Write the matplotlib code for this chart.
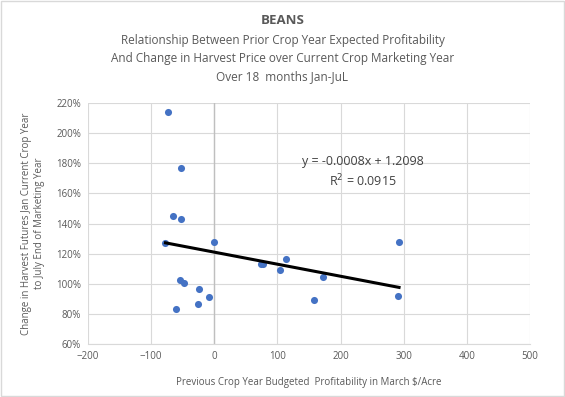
import numpy as np
import matplotlib.pyplot as plt
from matplotlib.ticker import PercentFormatter

# profitability ($/acre) vs change in harvest futures
profit = [-73.5, -52.4, -64.6, -53.5, -77.3, -1.0, 74.6, 77.3, 103.7, 113.2,
          172.0, 157.7, -55.0, -48.7, -24.9, -9.0, -26.5, -61.4, 292.6, 291.0]
change = [2.139, 1.771, 1.448, 1.428, 1.269, 1.275, 1.129, 1.129, 1.089, 1.161,
          1.042, 0.891, 1.023, 1.007, 0.963, 0.914, 0.864, 0.830, 1.275, 0.916]
slope = -0.0008
intercept = 1.2098
r2 = 0.0915

txt = '#595959'
plt.rcParams['font.family'] = ['Open Sans', 'DejaVu Sans']

fig = plt.figure(figsize=(5.65, 3.97), dpi=100)
ax = fig.add_axes([88 / 565, 1 - 344 / 397, (530 - 88) / 565, (344 - 103) / 397])

ax.scatter(profit, change, s=26, color='#4472c4', zorder=3, linewidths=0)
xs = np.array([min(profit), max(profit)])
ax.plot(xs, slope * xs + intercept, color='black', lw=2.2, zorder=4)

ax.set_xlim(-200, 500)
ax.set_ylim(0.6, 2.2)
ax.set_xticks(np.arange(-200, 501, 100))
ax.set_yticks(np.arange(0.6, 2.21, 0.2))
ax.yaxis.set_major_formatter(PercentFormatter(1.0, decimals=0))
ax.grid(color='#d9d9d9', lw=0.8)
ax.set_axisbelow(True)
ax.axvline(0, color='#bfbfbf', lw=1, zorder=2)
for s in ['top', 'right', 'left']:
    ax.spines[s].set_visible(False)
ax.spines['bottom'].set_color('#d9d9d9')
ax.tick_params(length=0, labelsize=7, colors=txt, pad=5)

ax.text(235, 1.81, 'y = -0.0008x + 1.2098', ha='center', va='center', fontsize=9, color='#404040')
ax.text(235, 1.68, 'R$^2$ = 0.0915', ha='center', va='center', fontsize=9, color='#404040')

ax.set_xlabel('Previous Crop Year Budgeted  Profitability in March $/Acre', fontsize=7, color=txt, labelpad=11)
ax.set_ylabel('Change in Harvest Futures Jan Current Crop Year\nto July End of Marketing Year', fontsize=7, color=txt, labelpad=8)

fig.text(0.5, 1 - 20 / 397, 'BEANS', ha='center', va='center', fontsize=9.5, fontweight='bold', color=txt)
fig.text(0.5, 1 - 58.5 / 397,
         'Relationship Between Prior Crop Year Expected Profitability\n'
         'And Change in Harvest Price over Current Crop Marketing Year\n'
         'Over 18  months Jan-JuL',
         ha='center', va='center', fontsize=8.5, color=txt, linespacing=1.5)

fig.patches.append(plt.Rectangle((0.002, 0.002), 0.996, 0.996, transform=fig.transFigure,
                                 fill=False, edgecolor='#d9d9d9', lw=1))
fig.savefig('out.png', dpi=100)
